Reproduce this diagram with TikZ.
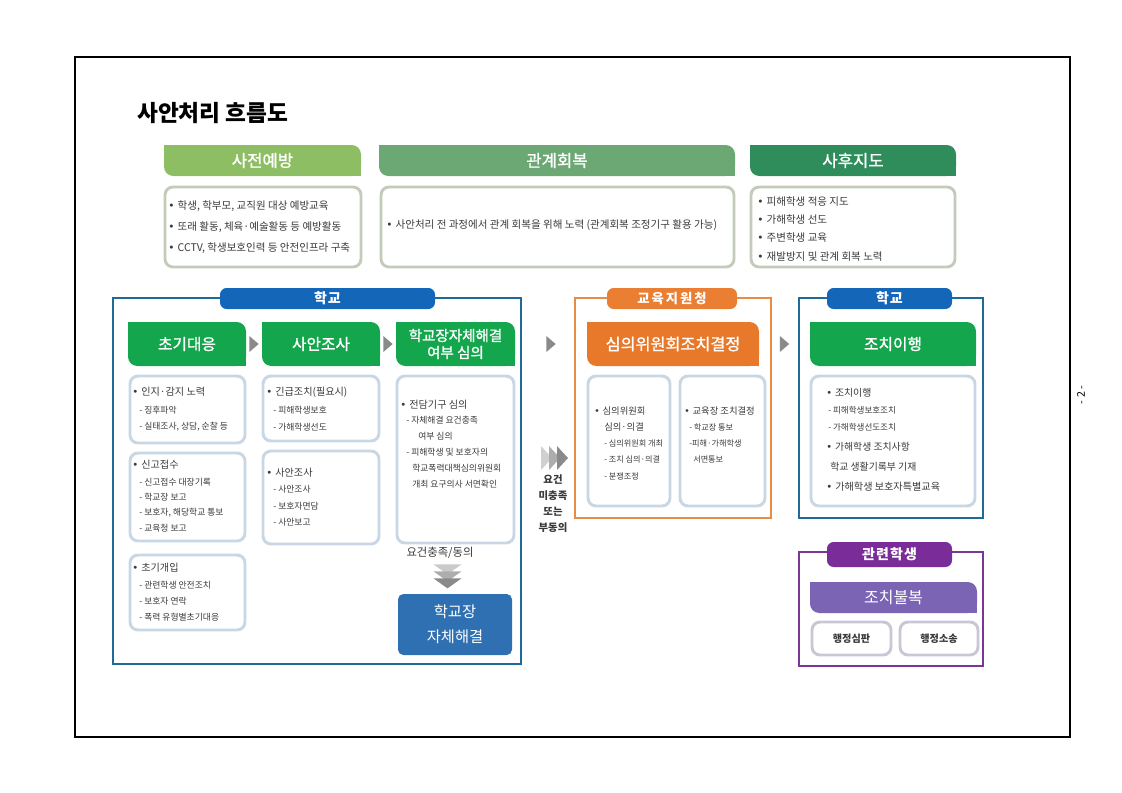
\documentclass[tikz,border=0pt]{standalone}
\usepackage{fontspec}
\setmainfont{Noto Sans CJK KR}
\newfontfamily\dejavu{DejaVu Sans}
\newfontfamily\hfont[FakeBold=1.2]{Noto Sans CJK KR}
\usetikzlibrary{calc}
\definecolor{preG}{HTML}{8DBE64}
\definecolor{relG}{HTML}{6CA874}
\definecolor{postG}{HTML}{2F8C5B}
\definecolor{topBd}{HTML}{C3CCBA}
\definecolor{schF}{HTML}{1F6A98}
\definecolor{schT}{HTML}{1466B8}
\definecolor{grnH}{HTML}{14A64C}
\definecolor{boxBd}{HTML}{C9D6E3}
\definecolor{ornF}{HTML}{E88B45}
\definecolor{ornT}{HTML}{EA7F34}
\definecolor{ornH}{HTML}{E8792B}
\definecolor{purF}{HTML}{7B3597}
\definecolor{purT}{HTML}{7A2C98}
\definecolor{purH}{HTML}{7C64B4}
\definecolor{purBd}{HTML}{C9C7D6}
\definecolor{selfB}{HTML}{2F70B2}
\definecolor{txt}{HTML}{3A3A3A}
\definecolor{arr}{HTML}{8A8A8A}
\newcommand\bul{{\dejavu •}\hspace{0.3em}}
\newcommand\sharpen[2]{\fill[#2] (#1.north west) rectangle ++(7pt,-7pt); \fill[#2] (#1.south east) rectangle ++(-7pt,7pt);}
\newcommand\tri[1]{\fill[arr] (#1) ++(-3.5pt,6pt) -- ++(7pt,-6pt) -- ++(-7pt,-6pt) -- cycle;}
\tikzset{
  spanbox/.code args={#1,#2,#3,#4}{%
    \pgfmathsetmacro\sbw{abs(#3-#1)*0.75}%
    \pgfmathsetmacro\sbh{abs(#4-#2)*0.75}%
    \pgfmathsetmacro\sbx{(#1+#3)/2}%
    \pgfmathsetmacro\sby{(#2+#4)/2}%
    \tikzset{minimum width=\sbw pt, minimum height=\sbh pt, at={(\sbx,\sby)}}},
  hdr/.style={fill=#1, rounded corners=7pt, inner sep=0pt, text=white, font=\hfont\fontsize{11.8}{12.75}\selectfont, align=center},
  tophdr/.style={hdr=#1, font=\hfont\fontsize{12.5}{14}\selectfont},
  tab/.style={fill=#1, rounded corners=5pt, inner sep=0pt, text=white, font=\bfseries\fontsize{10.5}{12}\selectfont\addfontfeature{LetterSpace=6}},
  outframe/.style={draw=#1, line width=1.6pt, inner sep=0pt},
  cbox/.style={draw=#1, line width=2.2pt, rounded corners=6pt, fill=white, inner sep=0pt},
  itm/.style={anchor=west, inner sep=0pt, text=txt, font=\fontsize{7.6}{9}\selectfont},
  sub/.style={anchor=west, inner sep=0pt, text=txt, font=\fontsize{6.6}{8}\selectfont},
  toptxt/.style={anchor=west, inner sep=0pt, text=txt, font=\fontsize{7.9}{9}\selectfont},
}
\begin{document}
\begin{tikzpicture}[x=0.75pt,y=-0.75pt]
\useasboundingbox (0,0) rectangle (1122,793);
\draw[line width=0.8pt] (75,57) rectangle (1070,737);
\node[anchor=west, inner sep=0pt, font=\bfseries\fontsize{17}{19}\selectfont] (title) at (137,113) {사안처리 흐름도};
\node[rotate=90, font=\fontsize{8}{9}\selectfont] (pg) at (1081,395) {- 2 -};

% ---- top row
\node[tophdr=preG, spanbox={164,145,361,176}] (hpre) {사전예방}; \sharpen{hpre}{preG}
\node[tophdr=relG, spanbox={379,145,735,176}] (hrel) {관계회복}; \sharpen{hrel}{relG}
\node[tophdr=postG, spanbox={750,145,956,176}] (hpost) {사후지도}; \sharpen{hpost}{postG}
\node[cbox=topBd, spanbox={165,187,361,267}] (cpre) {};
\node[cbox=topBd, spanbox={381,187,734,267}] (crel) {};
\node[cbox=topBd, spanbox={751,187,955,267}] (cpost) {};
\node[toptxt] (tp1) at (168,206) {\bul 학생, 학부모, 교직원 대상 예방교육};
\node[toptxt] (tp2) at (168,227) {\bul 또래 활동, 체육·예술활동 등 예방활동};
\node[toptxt] (tp3) at (168,248) {\bul CCTV, 학생보호인력 등 안전인프라 구축};
\node[toptxt] (tr1) at (386,225) {\bul 사안처리 전 과정에서 관계 회복을 위해 노력 (관계회복 조정기구 활용 가능)};
\node[toptxt] (tq1) at (757,202) {\bul 피해학생 적응 지도};
\node[toptxt] (tq2) at (757,220) {\bul 가해학생 선도};
\node[toptxt] (tq3) at (757,238) {\bul 주변학생 교육};
\node[toptxt] (tq4) at (757,257) {\bul 재발방지 및 관계 회복 노력};

% ---- school
\node[outframe=schF, spanbox={113,298,521,664}] (sch) {};
\node[tab=schT, spanbox={220,288,435,309}] (schtab) {학교};
\node[hdr=grnH, spanbox={128,322,246,366}] (h1) {초기대응}; \sharpen{h1}{grnH}
\node[hdr=grnH, spanbox={262,322,380,366}] (h2) {사안조사}; \sharpen{h2}{grnH}
\node[hdr=grnH, spanbox={396,322,515,366}, font=\hfont\fontsize{10.9}{12.75}\selectfont] (h3) {학교장자체해결\\여부 심의}; \sharpen{h3}{grnH}
\tri{$(h1.east)!0.5!(h2.west)$}
\tri{$(h2.east)!0.5!(h3.west)$}

\node[cbox=boxBd, spanbox={130,376,245,443}] (ba) {};
\node[cbox=boxBd, spanbox={130,453,245,541}] (bb) {};
\node[cbox=boxBd, spanbox={130,555,245,630}] (bc) {};
\node[cbox=boxBd, spanbox={263,376,379,441}] (bd) {};
\node[cbox=boxBd, spanbox={263,451,379,544}] (be) {};
\node[cbox=boxBd, spanbox={397,376,514,543}] (bf) {};

\node[itm] (ta1) at (132,392) {\bul 인지·감지 노력};
\node[sub] (ta2) at (139,410) {- 징후파악};
\node[sub] (ta3) at (139,427) {- 실태조사, 상담, 순찰 등};

\node[itm] (tb1) at (132,465) {\bul 신고접수};
\node[sub] (tb2) at (139,482) {- 신고접수 대장기록};
\node[sub] (tb3) at (139,497) {- 학교장 보고};
\node[sub] (tb4) at (139,513) {- 보호자, 해당학교 통보};
\node[sub] (tb5) at (139,528) {- 교육청 보고};

\node[itm] (tc1) at (132,568) {\bul 초기개입};
\node[sub] (tc2) at (139,585) {- 관련학생 안전조치};
\node[sub] (tc3) at (139,601) {- 보호자 연락};
\node[sub] (tc4) at (139,617) {- 폭력 유형별초기대응};

\node[itm] (td1) at (266,392) {\bul 긴급조치(필요시)};
\node[sub] (td2) at (273,410) {- 피해학생보호};
\node[sub] (td3) at (273,427) {- 가해학생선도};

\node[itm] (te1) at (266,473) {\bul 사안조사};
\node[sub] (te2) at (273,489) {- 사안조사};
\node[sub] (te3) at (273,506) {- 보호자면담};
\node[sub] (te4) at (273,522) {- 사안보고};

\node[itm] (tf1) at (400,405) {\bul 전담기구 심의};
\node[sub] (tf2) at (406,420) {- 자체해결 요건충족};
\node[sub] (tf3) at (418,436) {여부 심의};
\node[sub] (tf4) at (406,452) {- 피해학생 및 보호자의};
\node[sub] (tf5) at (412,468) {학교폭력대책심의위원회};
\node[sub] (tf6) at (412,484) {개최 요구의사 서면확인};

\node[font=\fontsize{8.5}{10}\selectfont, text=txt, inner sep=0pt] (agree) at (440,553) {요건충족/동의};
\node[fill=selfB, rounded corners=4pt, spanbox={398,594,512,655}, inner sep=0pt, text=white, align=center, font=\fontsize{11.5}{18.75}\selectfont] (self) {학교장\\자체해결};
\coordinate (dc) at ($(agree.south)!0.5!(self.north)$);
\begin{scope}[shift={(dc)}]
\fill[arr!45] (-14,-12) -- (14,-12) -- (0,-2) -- cycle;
\fill[arr!70] (-14,-5) -- (14,-5) -- (0,5) -- cycle;
\fill[arr!100!black] (-14,2) -- (14,2) -- (0,12) -- cycle;
\end{scope}

% ---- middle
\coordinate (mc) at (541,458);
\begin{scope}[shift={(mc)}]
\fill[arr!40] (0,-12) -- (11,0) -- (0,12) -- cycle;
\fill[arr!70] (8,-12) -- (19,0) -- (8,12) -- cycle;
\fill[arr!100!black] (16,-12) -- (27,0) -- (16,12) -- cycle;
\end{scope}
\node[align=center, font=\bfseries\fontsize{7.8}{12}\selectfont, text=txt, inner sep=0pt] (unmet) at (553,504) {요건\\미충족\\또는\\부동의};

% ---- education office
\node[outframe=ornF, spanbox={575,298,771,518}] (edu) {};
\node[tab=ornT, spanbox={607,288,737,309}, font=\bfseries\fontsize{10}{12}\selectfont\addfontfeature{LetterSpace=15}] (edutab) {교육지원청};
\node[hdr=ornH, spanbox={587,322,759,366}, font=\hfont\fontsize{12.2}{14}\selectfont] (eh) {심의위원회조치결정}; \sharpen{eh}{ornH}
\tri{$(h3.east)!0.5!(eh.west)$}
\node[cbox=boxBd, spanbox={588,376,670,506}] (bg) {};
\node[cbox=boxBd, spanbox={680,376,765,506}] (bh) {};
\node[itm, font=\fontsize{7}{9}\selectfont] (tg1) at (594,411) {\bul 심의위원회};
\node[itm, font=\fontsize{7}{9}\selectfont] (tg2) at (604,427) {심의·의결};
\node[sub, font=\fontsize{6.1}{8}\selectfont] (tg3) at (604,443) {- 심의위원회 개최};
\node[sub, font=\fontsize{6.1}{8}\selectfont] (tg4) at (604,459) {- 조치 심의·의결};
\node[sub, font=\fontsize{6.1}{8}\selectfont] (tg5) at (604,476) {- 분쟁조정};
\node[itm, font=\fontsize{7}{9}\selectfont] (th1) at (684,411) {\bul 교육장 조치결정};
\node[sub, font=\fontsize{6.1}{8}\selectfont] (th2) at (689,427) {- 학교장 통보};
\node[sub, font=\fontsize{6.1}{8}\selectfont] (th3) at (689,443) {-피해·가해학생};
\node[sub, font=\fontsize{6.1}{8}\selectfont] (th4) at (693,459) {서면통보};

% ---- school (right)
\node[outframe=schF, spanbox={799,298,983,518}] (act) {};
\node[tab=schT, spanbox={827,288,952,309}] (acttab) {학교};
\node[hdr=grnH, spanbox={810,322,976,366}] (ah) {조치이행}; \sharpen{ah}{grnH}
\tri{$(eh.east)!0.5!(ah.west)$}
\node[cbox=boxBd, spanbox={811,376,975,506}] (bi) {};
\node[itm, font=\fontsize{7.4}{9}\selectfont] (ti1) at (826,393) {\bul 조치이행};
\node[sub, font=\fontsize{6.4}{8}\selectfont] (ti2) at (828,410) {- 피해학생보호조치};
\node[sub, font=\fontsize{6.4}{8}\selectfont] (ti3) at (828,427) {- 가해학생선도조치};
\node[itm, font=\fontsize{7.4}{9}\selectfont] (ti4) at (826,447) {\bul 가해학생 조치사항};
\node[itm, font=\fontsize{7.4}{9}\selectfont] (ti5) at (830,467) {학교 생활기록부 기재};
\node[itm, font=\fontsize{7.6}{9}\selectfont] (ti6) at (826,487) {\bul 가해학생 보호자특별교육};

% ---- related students
\node[outframe=purF, spanbox={799,552,983,666}] (rel) {};
\node[tab=purT, spanbox={827,542,952,567}, font=\bfseries\fontsize{10.5}{12}\selectfont\addfontfeature{LetterSpace=8}] (reltab) {관련학생};
\node[hdr=purH, spanbox={810,582,977,613}, font=\fontsize{12}{14}\selectfont] (rh) {조치불복}; \sharpen{rh}{purH}
\node[cbox=purBd, spanbox={812,622,891,655}, text=txt, font=\bfseries\fontsize{7.6}{9}\selectfont] (rj1) {행정심판};
\node[cbox=purBd, spanbox={900,622,978,655}, text=txt, font=\bfseries\fontsize{7.6}{9}\selectfont] (rj2) {행정소송};
\end{tikzpicture}
\end{document}
